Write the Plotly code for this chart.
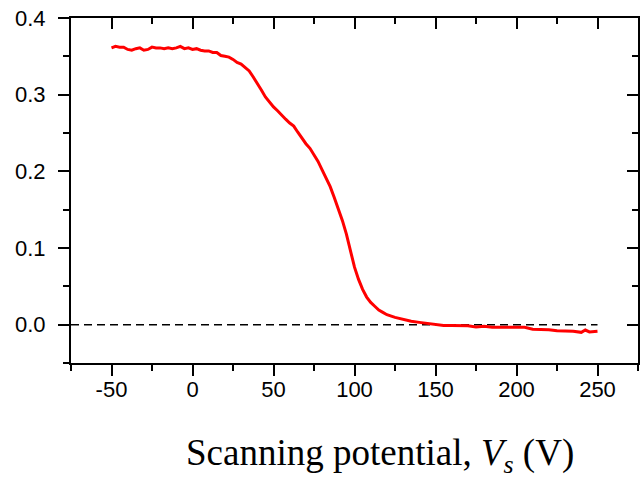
import plotly.graph_objects as go

# Data
vs = [-50, -47.5, -45, -42.5, -40, -37.5, -35, -32.5, -30, -27.5, -25, -22.5, -20, -17.5,
      -15, -12.5, -10, -7.5, -5, -2.5, 0, 2.5, 5, 7.5, 10, 12.5, 15, 17.5, 20, 22.5, 25,
      27.5, 30, 32.5, 35, 37.5, 40, 42.5, 45, 47.5, 50, 52.5, 55, 57.5, 60, 62.5, 65, 67.5,
      70, 72.5, 75, 77.5, 80, 82.5, 85, 87.5, 90, 92.5, 95, 97.5, 100, 102.5, 105, 107.5,
      110, 112.5, 115, 117.5, 120, 125, 130, 135, 140, 145, 150, 155, 160, 165, 170, 175,
      180, 185, 190, 195, 200, 205, 210, 215, 220, 225, 230, 235, 240, 242.5, 245, 250]
signal = [0.361, 0.363, 0.362, 0.362, 0.359, 0.358, 0.360, 0.361, 0.358, 0.359, 0.362,
          0.361, 0.361, 0.360, 0.361, 0.360, 0.361, 0.363, 0.360, 0.361, 0.359, 0.360,
          0.358, 0.357, 0.357, 0.355, 0.355, 0.351, 0.350, 0.349, 0.346, 0.342, 0.340,
          0.336, 0.331, 0.323, 0.315, 0.306, 0.297, 0.290, 0.284, 0.279, 0.273, 0.268,
          0.263, 0.259, 0.251, 0.243, 0.236, 0.230, 0.222, 0.213, 0.202, 0.191, 0.180,
          0.166, 0.152, 0.136, 0.118, 0.095, 0.075, 0.059, 0.046, 0.036, 0.029, 0.024,
          0.019, 0.016, 0.013, 0.0095, 0.0065, 0.0045, 0.003, 0.0015, 0.000, -0.001,
          -0.001, -0.0015, -0.0015, -0.003, -0.002, -0.0035, -0.0035, -0.004, -0.004,
          -0.0035, -0.006, -0.006, -0.0065, -0.008, -0.008, -0.0085, -0.010, -0.007,
          -0.0095, -0.0085]
zero_x = [-75, 250]
zero_y = [0, 0]

x_tick_vals = [-50, 0, 50, 100, 150, 200, 250]
x_tick_text = ["-50", "0", "50", "100", "150", "200", "250"]
y_tick_vals = [0.0, 0.1, 0.2, 0.3, 0.4]
y_tick_text = ["0.0", "0.1", "0.2", "0.3", "0.4"]

x_range = [-75, 275]
y_range = [-0.05, 0.4]

fig = go.Figure()
fig.add_trace(go.Scatter(x=zero_x, y=zero_y, mode="lines",
                         line=dict(color="black", width=1.5, dash="8px,5px"),
                         showlegend=False, hoverinfo="skip"))
fig.add_trace(go.Scatter(x=vs, y=signal, mode="lines",
                         line=dict(color="#ff0000", width=3),
                         showlegend=False))
fig.add_trace(go.Scatter(x=[], y=[], xaxis="x2", yaxis="y2", showlegend=False))

tickfont = dict(family="Liberation Sans, Arial", size=22, color="black")

fig.update_layout(
    width=644, height=479,
    margin=dict(l=71, r=6, t=16, b=116),
    paper_bgcolor="white", plot_bgcolor="white",
    xaxis=dict(range=x_range, tickmode="array", tickvals=x_tick_vals, ticktext=x_tick_text,
               showgrid=False, zeroline=False,
               showline=True, linecolor="black", linewidth=2,
               ticks="outside", ticklen=11, tickwidth=2, tickcolor="black",
               tickfont=tickfont, ticklabelstandoff=-5,
               minor=dict(dtick=25, tick0=0, ticks="outside", ticklen=6,
                          tickwidth=2, tickcolor="black")),
    yaxis=dict(range=y_range, tickmode="array", tickvals=y_tick_vals, ticktext=y_tick_text,
               showgrid=False,
               zeroline=False, showline=True, linecolor="black", linewidth=2,
               ticks="outside", ticklen=11, tickwidth=2, tickcolor="black",
               tickfont=tickfont, ticklabelstandoff=8,
               minor=dict(dtick=0.05, tick0=0, ticks="outside", ticklen=6,
                          tickwidth=2, tickcolor="black")),
    xaxis2=dict(range=x_range, dtick=50, tick0=0, overlaying="x", side="top",
                anchor="y2", showgrid=False, zeroline=False, showline=True,
                linecolor="black", linewidth=2, ticks="inside", ticklen=11,
                tickwidth=2, tickcolor="black", showticklabels=False,
                minor=dict(dtick=25, tick0=0, ticks="inside", ticklen=6,
                           tickwidth=2, tickcolor="black")),
    yaxis2=dict(range=y_range, dtick=0.1, tick0=0, overlaying="y", side="right",
                anchor="x2", showgrid=False, zeroline=False, showline=True,
                linecolor="black", linewidth=2, ticks="inside", ticklen=11,
                tickwidth=2, tickcolor="black", showticklabels=False,
                minor=dict(dtick=0.05, tick0=0, ticks="inside", ticklen=6,
                           tickwidth=2, tickcolor="black")),
    annotations=[dict(text="Scanning potential, <i>V<sub>s</sub></i> (V)",
                      xref="paper", yref="paper", x=0.545, y=-0.268,
                      xanchor="center", yanchor="middle", showarrow=False,
                      font=dict(family="Liberation Serif, Times New Roman",
                                size=37, color="black"))],
)

fig.write_html("out.html")
